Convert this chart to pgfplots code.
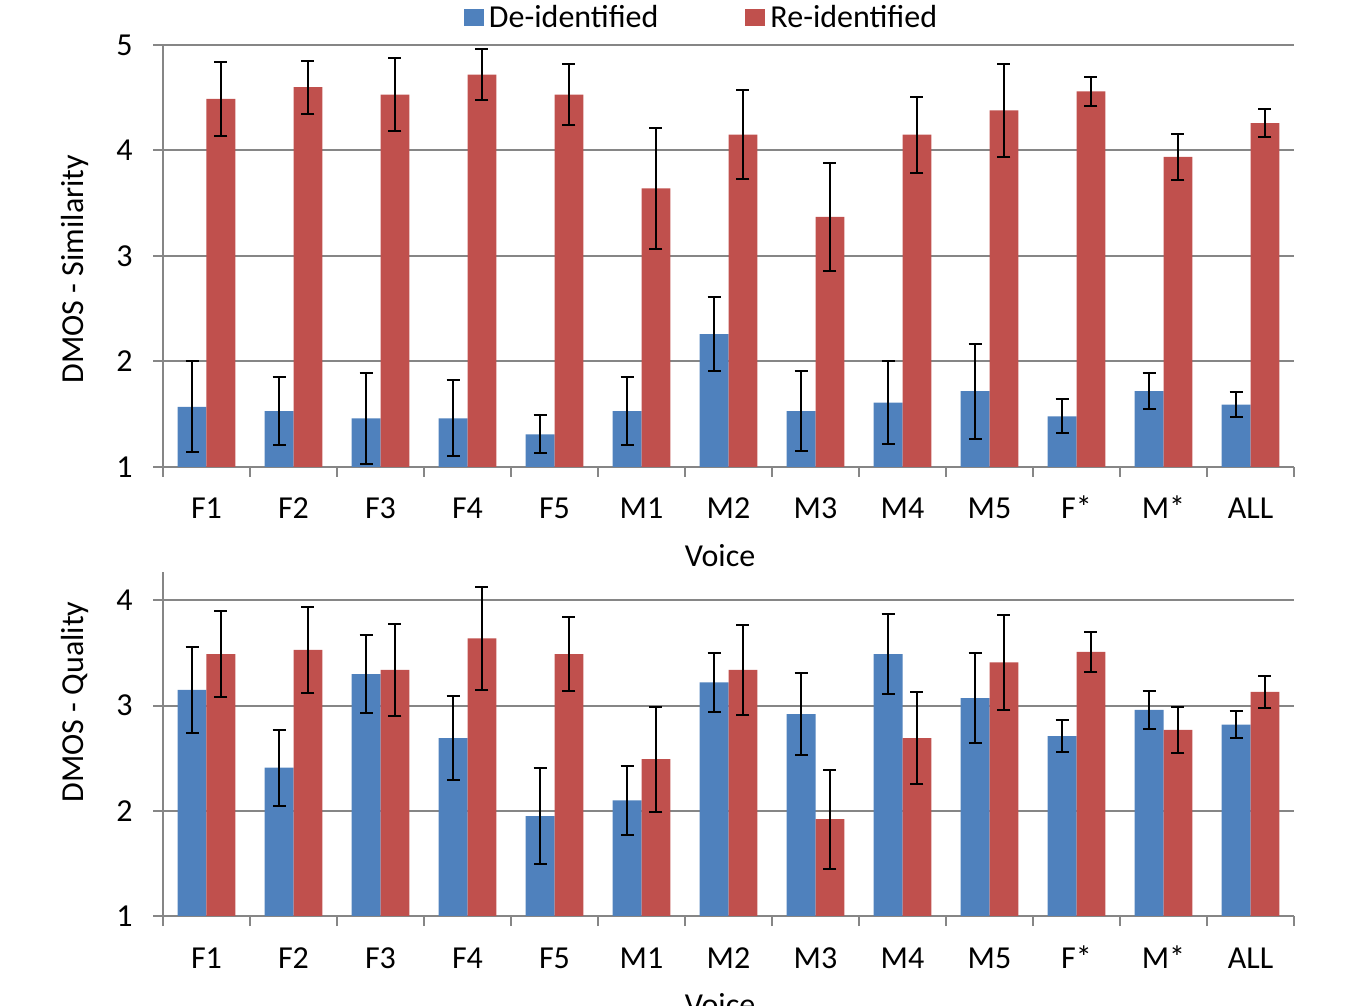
\documentclass[border=0pt]{standalone}
\usepackage{fontspec}
\setmainfont{Carlito}
\usepackage{pgfplots}
\pgfplotsset{compat=1.18}
\usepackage{pgfplotstable}
\definecolor{deblue}{RGB}{79,129,189}
\definecolor{rered}{RGB}{192,80,77}
\definecolor{gridgray}{RGB}{134,134,134}

\pgfplotstableread{
idx de deerr re reerr
0 1.57 0.43 4.49 0.35
1 1.53 0.32 4.60 0.25
2 1.46 0.43 4.53 0.35
3 1.46 0.36 4.72 0.24
4 1.31 0.18 4.53 0.29
5 1.53 0.32 3.64 0.57
6 2.26 0.35 4.15 0.42
7 1.53 0.38 3.37 0.51
8 1.61 0.39 4.15 0.36
9 1.72 0.45 4.38 0.44
10 1.48 0.16 4.56 0.14
11 1.72 0.17 3.94 0.22
12 1.59 0.12 4.26 0.13
}\simtable

\pgfplotstableread{
idx de deerr re reerr
0 3.15 0.41 3.49 0.41
1 2.41 0.36 3.53 0.41
2 3.30 0.37 3.34 0.44
3 2.69 0.40 3.64 0.49
4 1.95 0.46 3.49 0.35
5 2.10 0.33 2.49 0.50
6 3.22 0.28 3.34 0.43
7 2.92 0.39 1.92 0.47
8 3.49 0.38 2.69 0.44
9 3.07 0.43 3.41 0.45
10 2.71 0.15 3.51 0.19
11 2.96 0.18 2.77 0.22
12 2.82 0.13 3.13 0.15
}\qualtable

\pgfplotsset{
  dmos/.style={
    scale only axis, width=565.5pt,
    xmin=-0.5, xmax=12.5,
    xtick={0,...,12},
    xticklabels={F1,F2,F3,F4,F5,M1,M2,M3,M4,M5,F*,M*,ALL},
    minor xtick={-0.5,0.5,...,12.5},
    major x tick style={draw=none},
    minor tick length=5pt,
    major tick length=5pt,
    tick align=outside,
    axis x line*=bottom, axis y line*=left,
    axis line style={draw=gridgray, line width=1pt, -},
    tick style={draw=gridgray, line width=1pt},
    ymajorgrids, grid style={draw=gridgray, line width=1pt},
    font=\fontsize{16}{19}\selectfont,
    /pgf/number format/assume math mode=true,
    yticklabel style={anchor=east, inner sep=0pt, xshift=-10pt},
    xticklabel style={anchor=base, inner sep=0pt, yshift=-21pt},
    every axis x label/.style={at={(axis description cs:0.4925,0)}, anchor=north, inner sep=0pt, yshift=-38.5pt},
    xlabel={Voice},
    ybar, bar width=0.333,
    legend image code/.code={\fill[##1] (0pt,-4.25pt) rectangle (10pt,4.5pt);},
  },
  debar/.style={fill=deblue, draw=none, bar shift=-0.1665,
    error bars/.cd, y dir=both, y explicit,
    error bar style={black, line width=1pt},
    error mark options={rotate=90, black, line width=1pt, mark size=3.25pt}},
  rebar/.style={fill=rered, draw=none, bar shift=0.1665,
    error bars/.cd, y dir=both, y explicit,
    error bar style={black, line width=1pt},
    error mark options={rotate=90, black, line width=1pt, mark size=3.25pt}},
}

\begin{document}
\begin{tikzpicture}
\begin{axis}[dmos,
  at={(81.5pt,269.5pt)}, anchor=south west,
  height=211pt, ymin=1, ymax=5, ytick={1,2,3,4,5},
  ylabel={DMOS - Similarity},
  every axis y label/.style={at={(axis description cs:-0.078,0.469)}, rotate=90, anchor=center},
  legend style={at={(axis description cs:0.4775,1.064)}, anchor=center, draw=none, fill=none,
    legend columns=2, nodes={inner xsep=2.5pt},
    /tikz/every even column/.append style={column sep=41pt}},
]
\addplot[debar] table[x=idx, y=de, y error=deerr] {\simtable};
\addplot[rebar] table[x=idx, y=re, y error=reerr] {\simtable};
\legend{De-identified, Re-identified}
\end{axis}
\begin{axis}[dmos,
  at={(81.5pt,45pt)}, anchor=south west,
  height=172pt, ymin=1, ymax=4.27, ytick={1,2,3,4},
  ylabel={DMOS - Quality},
  every axis y label/.style={at={(axis description cs:-0.078,0.622)}, rotate=90, anchor=center},
]
\addplot[debar] table[x=idx, y=de, y error=deerr] {\qualtable};
\addplot[rebar] table[x=idx, y=re, y error=reerr] {\qualtable};
\end{axis}
\pgfresetboundingbox
\path[use as bounding box] (0,0) rectangle (677pt,503pt);
\end{tikzpicture}
\end{document}
